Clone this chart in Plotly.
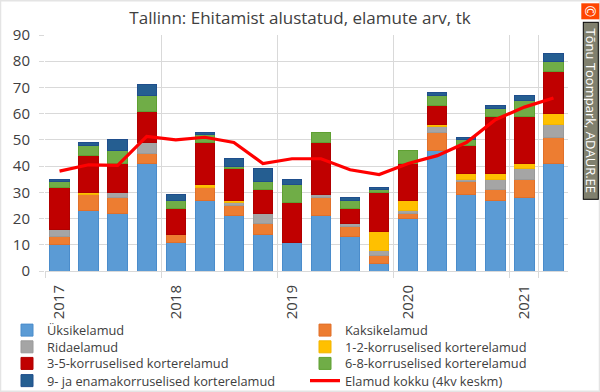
import plotly.graph_objects as go

categories = ["2017 K1","2017 K2","2017 K3","2017 K4","2018 K1","2018 K2","2018 K3","2018 K4",
              "2019 K1","2019 K2","2019 K3","2019 K4","2020 K1","2020 K2","2020 K3","2020 K4",
              "2021 K1","2021 K2"]
year_ticks = ["2017 K1","2018 K1","2019 K1","2020 K1","2021 K1"]
year_labels = ["2017","2018","2019","2020","2021"]

uksikelamud = [10,23,22,41,11,27,21,14,11,21,13,3,20,46,29,27,28,41]
kaksikelamud = [3,6,6,4,3,5,4,4,0,7,4,3,2,7,5,4,7,10]
ridaelamud = [3,0,2,4,0,0,1,4,0,1,1,2,1,2,1,4,4,5]
korrus_1_2 = [0,1,0,0,0,1,1,0,0,0,0,7,4,1,2,2,2,4]
korrus_3_5 = [16,14,11,12,10,16,12,9,15,20,6,15,14,7,11,22,18,16]
korrus_6_8 = [2,4,5,6,3,3,1,3,7,4,3,1,5,4,2,3,6,4]
korrus_9 = [1,1,4,4,2,1,3,5,2,0,1,1,0,1,1,1,2,3]
kokku_4kv = [38.1,40.5,40.3,51.3,50,51,49,41,42.8,42.8,38.6,36.8,41,44,49,57.7,62.5,66]

series = [
    ("Üksikelamud", uksikelamud, "#5B9BD5", "#4A8CCB"),
    ("Kaksikelamud", kaksikelamud, "#ED7D31", "#E0702A"),
    ("Ridaelamud", ridaelamud, "#A5A5A5", "#9A9A9A"),
    ("1-2-korruselised korterelamud", korrus_1_2, "#FFC000", "#F2B500"),
    ("3-5-korruselised korterelamud", korrus_3_5, "#C00000", "#B00000"),
    ("6-8-korruselised korterelamud", korrus_6_8, "#70AD47", "#5FA032"),
    ("9- ja enamakorruselised korterelamud", korrus_9, "#255E91", "#1F4E8C"),
]

W, H = 600, 392
ML, MR, MT, MB = 45, 32, 34.7, 121.3
PW, PH = W - ML - MR, H - MT - MB
def px(x): return (x - ML) / PW
def py(y): return (H - MB - y) / PH

FONT = "Open Sans"
TXT = "#404040"

fig = go.Figure()
legend_ids = ["legend" if i == 0 else f"legend{i+1}" for i in range(8)]
for i, (name, vals, col, edge) in enumerate(series):
    fig.add_trace(go.Bar(x=categories, y=[v if v else None for v in vals], name=name, legend=legend_ids[i],
                         showlegend=True, marker=dict(color=col, line=dict(color=edge, width=1))))
fig.add_trace(go.Scatter(x=categories, y=kokku_4kv, name="Elamud kokku (4kv keskm)", mode="lines",
                         legend=legend_ids[7], showlegend=True, line=dict(color="#FF0000", width=3.2)))

rows = [330, 346.7, 363.3, 380.5]
legends = {}
for i, lid in enumerate(legend_ids):
    legends[lid] = dict(x=px(7 if i % 2 == 0 else 305), y=py(rows[i // 2]), xanchor="left", yanchor="middle",
                        bgcolor="rgba(0,0,0,0)", borderwidth=0,
                        font=dict(family=FONT, size=12.8, color=TXT))

fig.update_layout(
    width=W, height=H, barmode="stack", bargap=0.335, showlegend=True,
    paper_bgcolor="white", plot_bgcolor="white",
    margin=dict(l=ML, r=MR, t=MT, b=MB, autoexpand=False),
    font=dict(family=FONT, size=13, color=TXT),
    title=dict(text="Tallinn: Ehitamist alustatud, elamute arv, tk", x=0.5, xanchor="center", xref="container",
               y=1 - 18 / H, yref="container", yanchor="middle", font=dict(family=FONT, size=17, color=TXT)),
    xaxis=dict(type="category", categoryorder="array", categoryarray=categories,
               tickmode="array", tickvals=year_ticks, ticktext=year_labels, tickson="boundaries",
               tickangle=-90, showgrid=True, gridcolor="#D9D9D9", gridwidth=1,
               ticks="outside", ticklen=6, tickcolor="#D9D9D9", showline=True, linecolor="#D9D9D9",
               ticklabelstandoff=7, tickfont=dict(size=15, color=TXT)),
    yaxis=dict(range=[0, 90], dtick=10, showgrid=True, gridcolor="#D9D9D9", gridwidth=1,
               zeroline=False, ticks="outside", ticklen=5, tickcolor="#D9D9D9", ticklabelstandoff=6,
               tickfont=dict(size=15, color=TXT)),
    shapes=[dict(type="rect", xref="paper", yref="paper", x0=px(0.5), x1=px(599.5), y0=py(391), y1=py(0.5),
                 line=dict(color="#E4E4E4", width=1.5), fillcolor="rgba(0,0,0,0)", layer="below")],
    annotations=[
        dict(text="©", xref="paper", yref="paper", x=px(590.5), y=py(11), xanchor="center", yanchor="middle",
             width=15, height=17, showarrow=False, bgcolor="#FF4500", textangle=90, borderpad=0,
             font=dict(family=FONT, size=14, color="white")),
        dict(text="Tõnu Toompark, ADAUR.EE", xref="paper", yref="paper", x=px(590.5), y=py(110),
             xanchor="center", yanchor="middle", width=176, height=14, textangle=90, showarrow=False,
             bgcolor="#80806E", bordercolor="black", borderwidth=1, borderpad=0,
             font=dict(family=FONT, size=13, color="white")),
    ],
    **legends,
)
fig.write_html("out.html", config=dict(displayModeBar=False),
               post_script="document.body.style.margin='0';document.body.style.overflow='hidden';")
